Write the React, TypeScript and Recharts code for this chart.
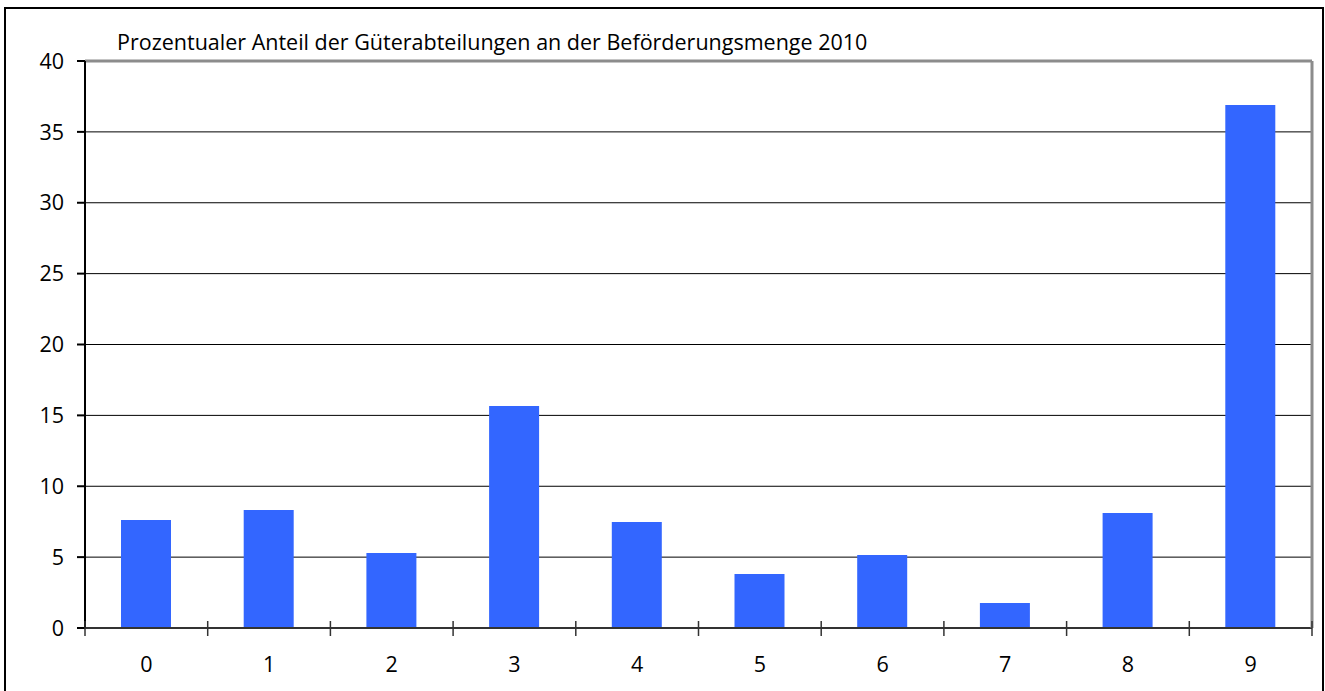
import { Bar, BarChart, CartesianGrid, ReferenceLine, XAxis, YAxis } from "recharts";

const categories = ["0", "1", "2", "3", "4", "5", "6", "7", "8", "9"];
const shares = [7.62, 8.32, 5.29, 15.66, 7.48, 3.81, 5.15, 1.76, 8.11, 36.9];
const yTicks = [0, 5, 10, 15, 20, 25, 30, 35, 40];
const title = "Prozentualer Anteil der Güterabteilungen an der Beförderungsmenge 2010";

const data = categories.map((name, i) => ({ name, share: shares[i] }));

const font = "'Open Sans', sans-serif";
const fontSize = 21.5;

// category label in the middle, tick marks on the band edges
function CategoryTick(props: any) {
  const { x, y, payload, index, visibleTicksCount } = props;
  const half = payload.offset ?? 0;
  const isLast = index === visibleTicksCount - 1;
  return (
    <g>
      <line x1={x - half} x2={x - half} y1={y - 15} y2={y} stroke="#333" strokeWidth={1.5} />
      {isLast && (
        <line x1={x + half} x2={x + half} y1={y - 15} y2={y} stroke="#333" strokeWidth={1.5} />
      )}
      <text
        x={x}
        y={y + 36}
        textAnchor="middle"
        fontFamily={font}
        fontSize={fontSize}
        fill="#000"
      >
        {payload.value}
      </text>
    </g>
  );
}

export default function App() {
  return (
    <div
      style={{
        position: "fixed",
        left: 0,
        top: 0,
        width: 1325,
        height: 691,
        overflow: "hidden",
        background: "#fff",
      }}
    >
      <div
        style={{
          position: "absolute",
          left: 4,
          top: 7,
          width: 1316,
          height: 700,
          border: "2px solid #000",
        }}
      />
      <div
        style={{
          position: "absolute",
          left: 117,
          top: 27,
          fontFamily: font,
          fontSize,
          color: "#000",
          whiteSpace: "nowrap",
        }}
      >
        {title}
      </div>
      <div style={{ position: "absolute", left: 0, top: 0 }}>
        <BarChart
          width={1325}
          height={691}
          data={data}
          margin={{ top: 61, right: 12, bottom: 23, left: 0 }}
          barSize={50}
        >
          <CartesianGrid vertical={false} stroke="#000" />
          <XAxis
            dataKey="name"
            height={40}
            tickLine={false}
            tick={<CategoryTick />}
            stroke="#333"
            strokeWidth={2}
            interval={0}
          />
          <YAxis
            width={85}
            domain={[0, 40]}
            ticks={yTicks}
            tickSize={8}
            tickMargin={13}
            tick={{ fill: "#000", fontSize, fontFamily: font }}
            stroke="#000"
            strokeWidth={2}
            interval={0}
          />
          <YAxis
            yAxisId="frame"
            orientation="right"
            width={1}
            domain={[0, 40]}
            ticks={yTicks}
            tick={false}
            tickLine={false}
            stroke="#8c8c8c"
            strokeWidth={3}
          />
          <ReferenceLine y={40} stroke="#8c8c8c" strokeWidth={3} />
          <Bar dataKey="share" fill="#3366ff" isAnimationActive={false} />
        </BarChart>
      </div>
    </div>
  );
}
